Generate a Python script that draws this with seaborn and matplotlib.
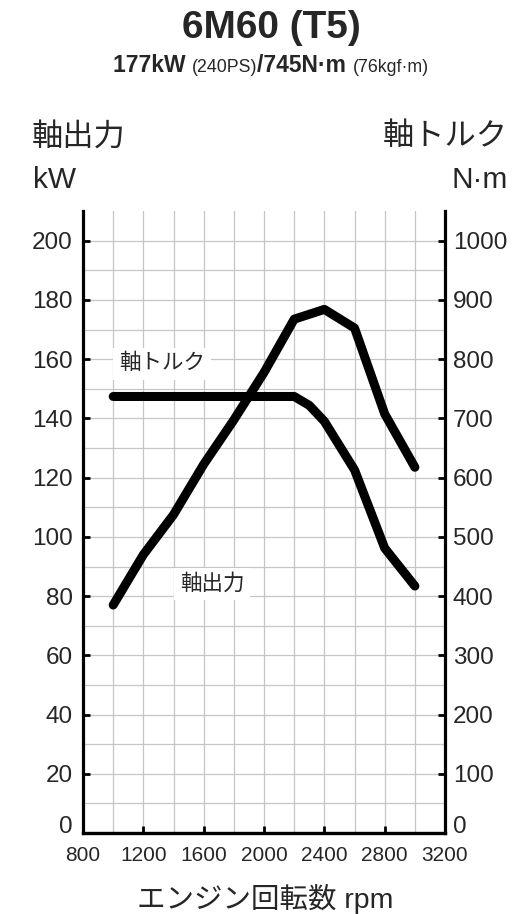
from __future__ import annotations

import matplotlib

matplotlib.use("Agg")

import matplotlib.pyplot as plt
import numpy as np
import seaborn as sns


# 軸出力 (kW) / 軸トルク (N·m) vs engine speed
rpm_power = [1000, 1200, 1400, 1600, 1800, 2000, 2200, 2400, 2600, 2800, 3000]
power_kw = [77, 94, 107.5, 124.5, 139.5, 155.5, 173.5, 176.8, 170.5, 141.5, 123.5]

rpm_torque = [1000, 2200, 2300, 2400, 2600, 2800, 3000]
torque_nm = [737, 737, 722, 695, 613, 481, 417]

x_ticks = [800, 1200, 1600, 2000, 2400, 2800, 3200]
power_ticks = list(range(0, 201, 20))
torque_ticks = list(range(0, 1001, 100))

title_text = "6M60 (T5)"
subtitle_parts = [
    ("177kW ", "bold"),
    ("(240PS)", "normal"),
    ("/745N·m ", "bold"),
    ("(76kgf·m)", "normal"),
]

FONTS = ["Liberation Sans", "Noto Sans CJK JP", "DejaVu Sans"]
GRID_COLOR = "#c6c6c6"


def style_axis(ax, side: str) -> None:
    for name, spine in ax.spines.items():
        spine.set_color("black")
        spine.set_linewidth(2.3)
        spine.set_visible(name in (side, "bottom"))


def draw_subtitle(fig, x: float, y: float) -> None:
    # pieces of mixed weight/size placed one after another
    renderer = fig.canvas.get_renderer()
    x_px = x * fig.bbox.width
    for text, weight in subtitle_parts:
        size = 16.5 if weight == "bold" else 12.8
        t = fig.text(x_px / fig.bbox.width, y, text, fontsize=size,
                     fontweight=weight, ha="left", va="baseline")
        x_px = t.get_window_extent(renderer).x1


def main() -> None:
    sns.set_theme(style="white")
    plt.rcParams["font.family"] = FONTS

    fig = plt.figure(figsize=(5.16, 9.14), dpi=100)
    ax = fig.add_axes([0.1609, 0.0885, 0.7016, 0.6806])
    ax2 = ax.twinx()

    ax.set_xlim(800, 3200)
    ax.set_ylim(0, 210)
    ax2.set_ylim(0, 1050)

    ax.set_xticks(x_ticks)
    ax.set_xticks(np.arange(800, 3201, 200), minor=True)
    ax.set_yticks(power_ticks)
    ax.set_yticks(np.arange(0, 201, 10), minor=True)
    ax2.set_yticks(torque_ticks)

    ax.grid(which="both", color=GRID_COLOR, linewidth=0.9)
    ax2.grid(False)
    ax.set_axisbelow(True)

    style_axis(ax, "left")
    style_axis(ax2, "right")

    ax.tick_params(axis="y", which="major", direction="in", length=5, width=2,
                   color="black", labelsize=17.5, pad=7.5, left=True)
    ax.tick_params(axis="x", which="major", direction="in", length=5, width=2,
                   color="black", labelsize=15, pad=9.5, bottom=True)
    ax.tick_params(which="minor", length=0)
    ax2.tick_params(axis="y", direction="in", length=5, width=2, color="black",
                    labelsize=17.5, pad=5.5, right=True)

    line_kw = dict(color="black", linewidth=6.5, solid_capstyle="round",
                   solid_joinstyle="round", legend=False)
    sns.lineplot(x=rpm_power, y=np.array(power_kw) * 5, ax=ax2, **line_kw)
    sns.lineplot(x=rpm_torque, y=torque_nm, ax=ax2, **line_kw)

    box = dict(facecolor="white", edgecolor="none", pad=4)
    ax2.text(1324, 158.5 * 5, "軸トルク", fontsize=15.5, ha="center", va="center", bbox=box)
    ax2.text(1655, 84.0 * 5, "軸出力", fontsize=15.5, ha="center", va="center", bbox=box)

    ax.set_xlabel("")
    ax.set_ylabel("")
    ax2.set_ylabel("")

    # the zero labels sit on the baseline instead of being centred
    fig.canvas.draw()
    ax.get_yticklabels()[0].set_va("baseline")
    ax2.get_yticklabels()[0].set_va("baseline")

    fig.text(0.525, 0.958, title_text, fontsize=28, fontweight="bold",
             ha="center", va="baseline")
    draw_subtitle(fig, 0.2184, 0.9216)

    fig.text(0.062, 0.8496, "軸出力", fontsize=22.5, ha="left", va="center")
    fig.text(0.064, 0.794, "kW", fontsize=21.5, ha="left", va="baseline")
    fig.text(0.985, 0.8496, "軸トルク", fontsize=22.5, ha="right", va="center")
    fig.text(0.985, 0.794, "N·m", fontsize=21.5, ha="right", va="baseline")
    fig.text(0.5136, 0.0164, "エンジン回転数 rpm", fontsize=20.5, ha="center", va="center")

    fig.savefig("out.png", dpi=100)
    plt.close(fig)


if __name__ == "__main__":
    main()
